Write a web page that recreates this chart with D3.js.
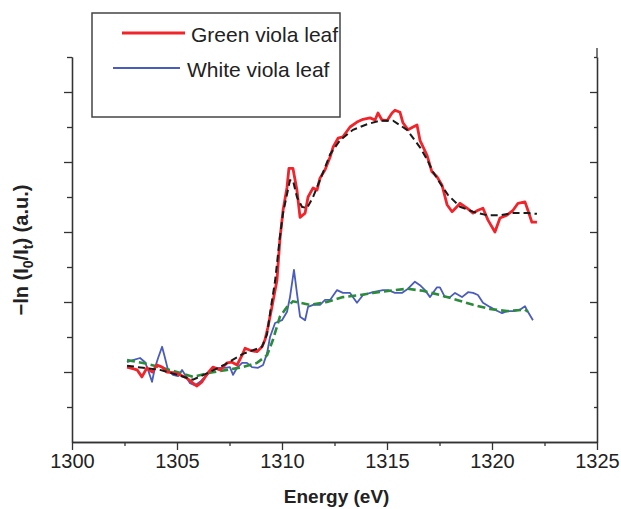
<!DOCTYPE html>
<html>
<head>
<meta charset="utf-8">
<script src="https://cdn.jsdelivr.net/npm/d3@7"></script>
<style>
    body { margin: 0; background: #fff; }
    text { font-family: "Liberation Sans", Arial, sans-serif; fill: #222; }
    .axis path, .axis line { stroke: #333; stroke-width: 1.3; }
</style>
</head>
<body>
<div id="chart"></div>
<script>

// ---- data ----
let greenLeafE = [1302.62, 1302.76, 1303.10, 1303.33, 1303.57, 1303.81, 1304.05, 1304.29, 1304.52, 1304.81,
    1305.14, 1305.48, 1305.76, 1305.95, 1306.19, 1306.48, 1306.71, 1307.05, 1307.38, 1307.62,
    1307.86, 1308.10, 1308.24, 1308.48, 1308.81, 1309.05, 1309.19, 1309.33, 1309.52, 1309.76,
    1309.90, 1310.05, 1310.24, 1310.33, 1310.52, 1310.71, 1310.86, 1311.10, 1311.24, 1311.48,
    1311.67, 1311.81, 1312.05, 1312.29, 1312.43, 1312.67, 1312.90, 1313.24, 1313.57, 1313.86,
    1314.19, 1314.43, 1314.57, 1314.76, 1315.00, 1315.24, 1315.38, 1315.62, 1315.76, 1316.00,
    1316.24, 1316.43, 1316.57, 1316.90, 1317.14, 1317.38, 1317.62, 1317.86, 1318.10, 1318.33,
    1318.48, 1318.81, 1319.10, 1319.33, 1319.57, 1319.81, 1320.14, 1320.38, 1320.71, 1321.00,
    1321.24, 1321.57, 1321.71, 1321.90, 1322.14];
let greenLeafAbs = [1.07, 1.06, 1.03, 0.93, 1.06, 1.00, 1.10, 1.07, 1.00, 0.99,
    0.96, 0.91, 0.84, 0.80, 0.86, 0.99, 1.07, 1.03, 1.13, 1.14,
    1.10, 1.24, 1.34, 1.31, 1.29, 1.36, 1.46, 1.64, 1.93, 2.31,
    2.89, 3.31, 3.64, 3.91, 3.91, 3.60, 3.21, 3.27, 3.50, 3.63,
    3.60, 3.77, 3.89, 4.07, 4.21, 4.34, 4.36, 4.50, 4.57, 4.61,
    4.63, 4.60, 4.70, 4.60, 4.59, 4.70, 4.74, 4.71, 4.56, 4.46,
    4.50, 4.53, 4.31, 4.10, 3.86, 3.79, 3.67, 3.39, 3.29, 3.36,
    3.41, 3.34, 3.27, 3.31, 3.34, 3.17, 3.00, 3.20, 3.24, 3.31,
    3.41, 3.43, 3.31, 3.14, 3.14];

let greenFitE = [1302.62, 1303.38, 1304.19, 1305.00, 1305.76, 1306.57, 1307.29, 1308.14, 1308.62, 1309.05,
    1309.29, 1309.43, 1309.67, 1309.90, 1310.05, 1310.38, 1310.52, 1310.71, 1310.95, 1311.19,
    1311.48, 1311.90, 1312.29, 1312.76, 1313.38, 1314.05, 1314.67, 1315.29, 1315.95, 1316.57,
    1316.90, 1317.19, 1317.52, 1317.90, 1318.48, 1319.10, 1319.76, 1320.38, 1321.00, 1321.67,
    1322.14];
let greenFitAbs = [1.09, 1.06, 1.03, 0.96, 0.89, 1.00, 1.11, 1.26, 1.31, 1.36,
    1.54, 1.84, 2.30, 2.93, 3.27, 3.74, 3.74, 3.50, 3.36, 3.34,
    3.50, 3.81, 4.11, 4.31, 4.46, 4.54, 4.59, 4.59, 4.46, 4.21,
    4.04, 3.86, 3.70, 3.53, 3.36, 3.29, 3.24, 3.24, 3.27, 3.27,
    3.26];

let whiteLeafE = [1302.62, 1302.90, 1303.24, 1303.48, 1303.62, 1303.81, 1303.95, 1304.10, 1304.29, 1304.43,
    1304.57, 1304.81, 1305.05, 1305.24, 1305.38, 1305.62, 1305.86, 1306.10, 1306.33, 1306.57,
    1306.90, 1307.29, 1307.52, 1307.67, 1307.86, 1308.10, 1308.33, 1308.57, 1308.86, 1309.10,
    1309.29, 1309.43, 1309.67, 1310.00, 1310.24, 1310.38, 1310.57, 1310.71, 1310.86, 1311.10,
    1311.24, 1311.48, 1311.81, 1312.05, 1312.29, 1312.62, 1312.90, 1313.24, 1313.57, 1313.86,
    1314.33, 1314.81, 1315.05, 1315.38, 1315.71, 1316.00, 1316.33, 1316.57, 1316.81, 1317.05,
    1317.38, 1317.52, 1317.76, 1318.00, 1318.24, 1318.57, 1318.86, 1319.10, 1319.33, 1319.57,
    1319.90, 1320.14, 1320.48, 1320.71, 1321.00, 1321.33, 1321.57, 1321.71, 1321.95];
let whiteLeafAbs = [1.14, 1.17, 1.20, 1.14, 1.03, 0.86, 1.06, 1.20, 1.36, 1.20,
    1.03, 0.96, 0.94, 1.03, 0.96, 0.84, 0.81, 0.86, 0.93, 1.00,
    1.06, 1.06, 1.07, 0.96, 1.06, 1.13, 1.13, 1.07, 1.06, 1.10,
    1.27, 1.50, 1.70, 1.74, 1.86, 2.07, 2.46, 2.13, 1.79, 1.74,
    1.93, 1.96, 1.96, 2.03, 2.03, 2.17, 2.13, 2.13, 1.99, 2.10,
    2.14, 2.17, 2.17, 2.13, 2.13, 2.19, 2.29, 2.24, 2.17, 2.07,
    2.21, 2.21, 2.07, 2.07, 2.13, 2.07, 2.14, 2.13, 2.10, 1.99,
    1.93, 1.89, 1.84, 1.87, 1.87, 1.89, 1.94, 1.86, 1.74];

let whiteFitE = [1302.62, 1303.38, 1304.19, 1305.00, 1305.76, 1306.57, 1307.38, 1308.14, 1308.81, 1309.29,
    1309.57, 1309.90, 1310.24, 1310.52, 1310.86, 1311.33, 1312.14, 1312.90, 1313.71, 1314.33,
    1315.14, 1315.95, 1316.71, 1317.52, 1318.33, 1319.10, 1319.90, 1320.71, 1321.57, 1321.71];
let whiteFitAbs = [1.17, 1.13, 1.07, 1.00, 0.93, 0.99, 1.03, 1.07, 1.13, 1.24,
    1.46, 1.79, 1.93, 2.01, 1.99, 1.96, 2.00, 2.07, 2.10, 2.13,
    2.16, 2.19, 2.16, 2.10, 2.03, 1.96, 1.90, 1.87, 1.89, 1.86];

// axis ticks
let xMajorTicks = [1300, 1305, 1310, 1315, 1320, 1325];
let xMinorTicks = [1302.5, 1307.5, 1312.5, 1317.5, 1322.5];
let yMajorTicks = [1, 2, 3, 4, 5];
let yMinorTicks = [0.5, 1.5, 2.5, 3.5, 4.5, 5.5];

let legendLabels = ["Green viola leaf", "White viola leaf"];

let zip = (xs, ys) => xs.map((e, i) => ({e: e, v: ys[i]}));

// ---- chart ----
let margin = {top: 57, right: 24, bottom: 67, left: 72};
let width = 621 - margin.left - margin.right;
let height = 509 - margin.top - margin.bottom;

let svg = d3.select("#chart").append("svg")
    .attr("width", 621)
    .attr("height", 509);

let g = svg.append("g")
    .attr("transform", `translate(${margin.left}, ${margin.top})`);

let x = d3.scaleLinear().domain([1300, 1325]).range([0, width]);
let y = d3.scaleLinear().domain([0, 5.5]).range([height, 0]);

// bottom axis
g.append("g")
    .attr("class", "axis")
    .attr("transform", `translate(0, ${height})`)
    .call(d3.axisBottom(x).tickValues(xMinorTicks).tickSize(4).tickSizeOuter(0).tickFormat(""));
let xAx = g.append("g")
    .attr("class", "axis")
    .attr("transform", `translate(0, ${height})`)
    .call(d3.axisBottom(x).tickValues(xMajorTicks).tickSize(8).tickSizeOuter(0).tickPadding(4).tickFormat(d3.format("d")));
xAx.selectAll("text").style("font-size", "20px").attr("fill", "#222");

// left axis, ticks outward
g.append("g")
    .attr("class", "axis")
    .call(d3.axisLeft(y).tickValues(yMinorTicks).tickSize(5).tickSizeOuter(0).tickFormat(""));
g.append("g")
    .attr("class", "axis")
    .call(d3.axisLeft(y).tickValues(yMajorTicks).tickSize(8).tickSizeOuter(0).tickFormat(""));

// right axis, ticks inward; its line runs a little above the last tick
let rightAx = g.append("g")
    .attr("class", "axis")
    .attr("transform", `translate(${width}, 0)`);
rightAx.append("g")
    .call(d3.axisRight(y).tickValues(yMinorTicks).tickSize(-3).tickSizeOuter(0).tickFormat(""));
rightAx.append("g")
    .call(d3.axisRight(y).tickValues(yMajorTicks).tickSize(-7).tickSizeOuter(0).tickFormat(""));
rightAx.append("line")
    .attr("x1", 0).attr("x2", 0).attr("y1", y(5.5)).attr("y2", y(5.63));

// curves
let line = d3.line().x(d => x(d.e)).y(d => y(d.v));

g.append("path").datum(zip(whiteLeafE, whiteLeafAbs))
    .attr("d", line).attr("fill", "none")
    .attr("stroke", "#4a5cbc").attr("stroke-width", 1.8).attr("stroke-linejoin", "round");

g.append("path").datum(zip(whiteFitE, whiteFitAbs))
    .attr("d", line).attr("fill", "none")
    .attr("stroke", "#2c8c3c").attr("stroke-width", 2.6).attr("stroke-dasharray", "8,4");

g.append("path").datum(zip(greenLeafE, greenLeafAbs))
    .attr("d", line).attr("fill", "none")
    .attr("stroke", "#f0242a").attr("stroke-width", 2.8).attr("stroke-linejoin", "round");

g.append("path").datum(zip(greenFitE, greenFitAbs))
    .attr("d", line).attr("fill", "none")
    .attr("stroke", "#1a1a1a").attr("stroke-width", 2).attr("stroke-dasharray", "7,4");

// axis titles
svg.append("text")
    .attr("x", margin.left + x(1312.6))
    .attr("y", 503)
    .attr("text-anchor", "middle")
    .style("font-size", "19px")
    .style("font-weight", "bold")
    .text("Energy (eV)");

let yTitle = svg.append("text")
    .attr("transform", "translate(28, 250) rotate(-90)")
    .attr("text-anchor", "middle")
    .style("font-size", "20px")
    .style("font-weight", "bold");
yTitle.append("tspan").text("\u2212ln (I");
yTitle.append("tspan").attr("dy", 5).style("font-size", "14px").text("0");
yTitle.append("tspan").attr("dy", -5).text("/I");
yTitle.append("tspan").attr("dy", 5).style("font-size", "14px").text("t");
yTitle.append("tspan").attr("dy", -5).text(") (a.u.)");

// legend
let legend = svg.append("g");
legend.append("rect")
    .attr("x", 92).attr("y", 13).attr("width", 248).attr("height", 104)
    .attr("fill", "white").attr("stroke", "#444").attr("stroke-width", 1.5);

let legendItems = [
    {label: legendLabels[0], color: "#f0242a", w: 2.8, x1: 122, x2: 185, ly: 33, tx: 191, ty: 42},
    {label: legendLabels[1], color: "#4a5cbc", w: 1.8, x1: 113, x2: 180, ly: 68, tx: 187, ty: 77}
];
legendItems.forEach(d => {
    legend.append("line")
        .attr("x1", d.x1).attr("x2", d.x2).attr("y1", d.ly).attr("y2", d.ly)
        .attr("stroke", d.color).attr("stroke-width", d.w);
    legend.append("text")
        .attr("x", d.tx).attr("y", d.ty)
        .style("font-size", "21px")
        .text(d.label);
});

</script>
</body>
</html>
